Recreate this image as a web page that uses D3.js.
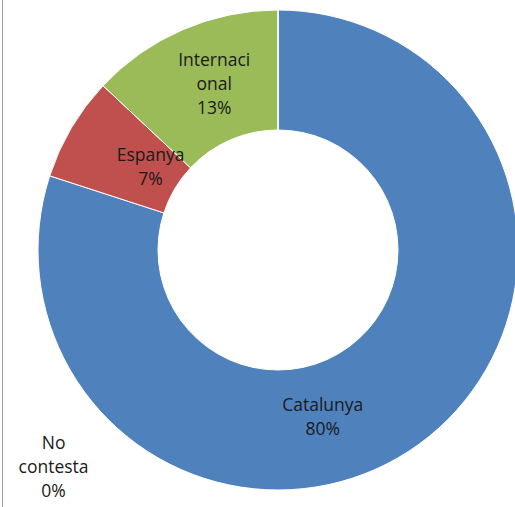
<!DOCTYPE html>
<html>
<head>
<meta charset="utf-8">
<script src="https://cdn.jsdelivr.net/npm/d3@7"></script>
<style>
  body { margin: 0; background: #fff; }
  svg text { font-family: "Open Sans", sans-serif; font-size: 17.5px; fill: #1a1a1a; }
</style>
</head>
<body>
<section></section>
<script>
(function() {
  var W = 515, H = 507;
  var categories = ['Catalunya', 'Espanya', 'Internacional', 'No contesta'];
  var values = [80, 7, 13, 0];
  var labelLines = [['Catalunya'], ['Espanya'], ['Internaci', 'onal'], ['No', 'contesta']];
  var colors = ['#4f81bd', '#c0504d', '#9bbb59', '#8064a2'];
  // label placement (angle in degrees clockwise from top, radius)
  var labelPos = [[165, 173], [303, 152], [339, 178], [226, 312]];

  var cx = 278, cy = 250, R = 240, r0 = 120;
  var svg = d3.select('section').append('svg').attr('width', W).attr('height', H);
  svg.append('line').attr('x1', 2.5).attr('x2', 2.5).attr('y1', 0).attr('y2', H)
    .attr('stroke', '#a0a0a0').attr('stroke-width', 1);
  var g = svg.append('g').attr('transform', 'translate(' + cx + ',' + cy + ')');

  var data = categories.map(function(c, i) {
    return { name: c, value: values[i], lines: labelLines[i], color: colors[i], lp: labelPos[i] };
  });
  var pie = d3.pie().sort(null).value(function(d) { return d.value; });
  var arc = d3.arc().innerRadius(r0).outerRadius(R);
  var arcs = pie(data);

  g.selectAll('path').data(arcs).enter().append('path')
    .attr('d', arc)
    .attr('fill', function(d) { return d.data.color; })
    .attr('stroke', '#fff').attr('stroke-width', 1);

  var total = d3.sum(values);
  var lbl = g.selectAll('g.lbl').data(arcs).enter().append('g').attr('class', 'lbl')
    .attr('transform', function(d) {
      var a = d.data.lp[0] * Math.PI / 180, rr = d.data.lp[1];
      return 'translate(' + (rr * Math.sin(a)) + ',' + (-rr * Math.cos(a)) + ')';
    });
  lbl.each(function(d) {
    var lines = d.data.lines.concat([Math.round(d.data.value / total * 100) + '%']);
    var n = lines.length, lh = 24;
    var t = d3.select(this).append('text').attr('text-anchor', 'middle');
    lines.forEach(function(s, i) {
      t.append('tspan').attr('x', 0).attr('y', (i - (n - 1) / 2) * lh + 6).text(s);
    });
  });
})();
</script>
</body>
</html>
